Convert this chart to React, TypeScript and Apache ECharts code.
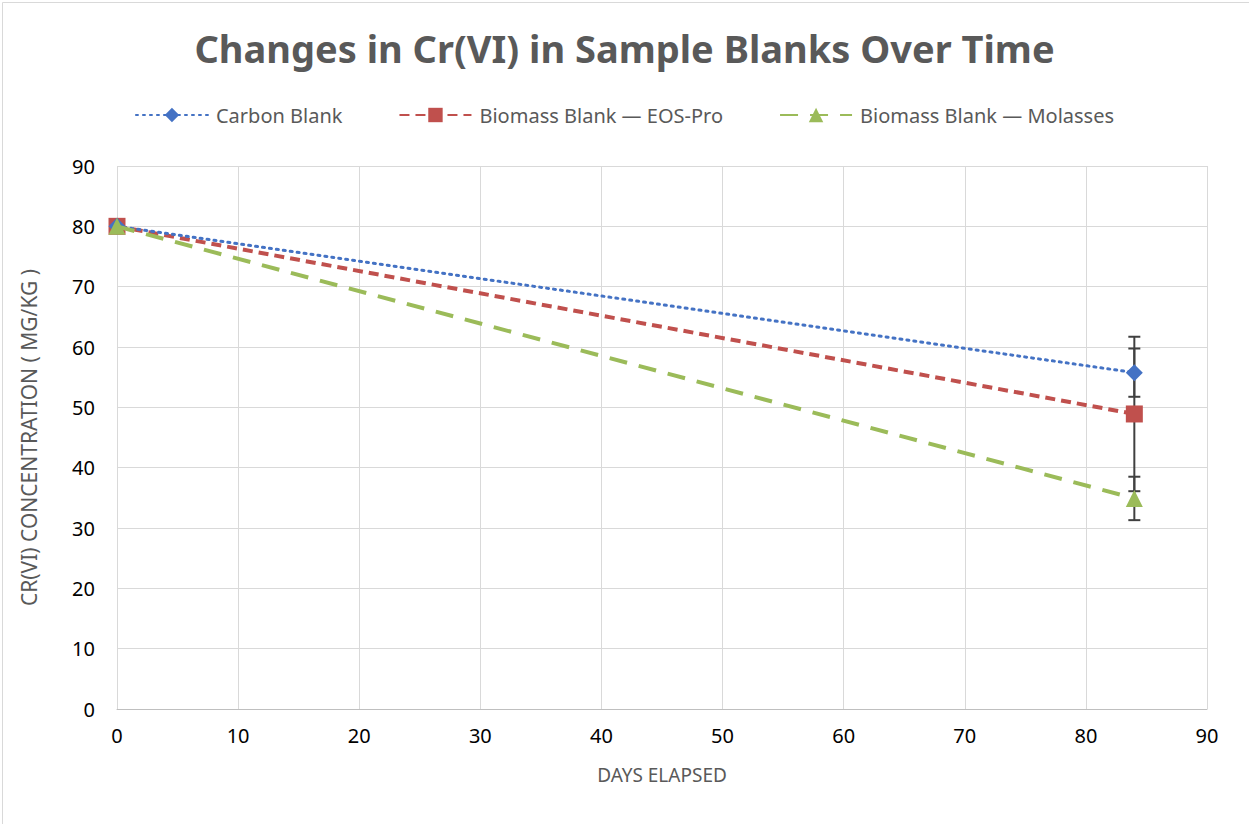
import React, { useEffect, useRef } from "react";
import * as echarts from "echarts";

const days = [0, 84];
const carbonBlank = [80, 55.75];
const eosPro = [80, 48.9];
const molasses = [80, 34.9];
const errCarbon = [0, 4.0];
const errEos = [0, 12.8];
const errMolasses = [0, 3.6];

const seriesNames = ["Carbon Blank", "Biomass Blank \u2014 EOS-Pro", "Biomass Blank \u2014 Molasses"];
const FONT = "'Noto Sans', sans-serif";

export default function App() {
  const ref = useRef<HTMLDivElement>(null);
  useEffect(() => {
    if (!ref.current) return;
    const chart = echarts.init(ref.current, undefined, { renderer: "svg" });
    const pts = (vals: number[]) => days.map((d, i) => [d, vals[i]]);
    const errData: number[][] = [];
    [
      [carbonBlank, errCarbon],
      [eosPro, errEos],
      [molasses, errMolasses],
    ].forEach(([v, e]) => {
      days.forEach((d, i) => {
        if (e[i] > 0) errData.push([d, v[i] - e[i], v[i] + e[i]]);
      });
    });
    chart.setOption({
      animation: false,
      backgroundColor: "#ffffff",
      title: {
        text: "Changes in Cr(VI) in Sample Blanks Over Time",
        left: "center",
        top: 24,
        textStyle: { fontFamily: FONT, fontSize: 38, fontWeight: "bold", color: "#595959" },
      },
      legend: {
        top: 100,
        left: "center",
        itemGap: 56,
        itemWidth: 72,
        itemHeight: 18,
        data: seriesNames,
        textStyle: { fontFamily: FONT, fontSize: 20, color: "#595959", padding: [0, 0, 0, 3] },
      },
      grid: { left: 117, right: 42, top: 166, bottom: 115, containLabel: false },
      xAxis: {
        type: "value",
        min: 0,
        max: 90,
        interval: 10,
        name: "DAYS ELAPSED",
        nameLocation: "middle",
        nameGap: 56,
        nameTextStyle: { fontFamily: FONT, fontSize: 19, color: "#595959" },
        axisLine: { show: true, lineStyle: { color: "#bfbfbf", width: 1 } },
        axisTick: { show: false },
        axisLabel: { fontFamily: FONT, fontSize: 20, color: "#000000", margin: 16 },
        splitLine: { show: true, lineStyle: { color: "#d9d9d9", width: 1 } },
      },
      yAxis: {
        type: "value",
        min: 0,
        max: 90,
        interval: 10,
        name: "CR(VI) CONCENTRATION ( MG/KG )",
        nameLocation: "middle",
        nameGap: 78,
        nameTextStyle: { fontFamily: FONT, fontSize: 21, color: "#595959" },
        axisLine: { show: false },
        axisTick: { show: false },
        axisLabel: { fontFamily: FONT, fontSize: 20, color: "#000000", margin: 22 },
        splitLine: { show: true, lineStyle: { color: "#d9d9d9", width: 1 } },
      },
      series: [
        {
          type: "custom",
          name: "errors",
          z: 1,
          data: errData,
          renderItem: (params: any, api: any) => {
            const x = api.value(0);
            const lo = api.coord([x, api.value(1)]);
            const hi = api.coord([x, api.value(2)]);
            const hw = 6;
            const style = { stroke: "#404040", lineWidth: 2 };
            return {
              type: "group",
              children: [
                { type: "line", shape: { x1: lo[0], y1: lo[1], x2: hi[0], y2: hi[1] }, style },
                { type: "line", shape: { x1: lo[0] - hw, y1: lo[1], x2: lo[0] + hw, y2: lo[1] }, style },
                { type: "line", shape: { x1: hi[0] - hw, y1: hi[1], x2: hi[0] + hw, y2: hi[1] }, style },
              ],
            };
          },
        },
        {
          type: "line",
          name: seriesNames[0],
          z: 4,
          data: pts(carbonBlank),
          symbol: "diamond",
          symbolSize: 17,
          itemStyle: { color: "#4472C4" },
          lineStyle: { color: "#4472C4", width: 3, type: [2, 5], cap: "round" },
        },
        {
          type: "line",
          name: seriesNames[1],
          z: 3,
          data: pts(eosPro),
          symbol: "rect",
          symbolSize: 17,
          itemStyle: { color: "#C0504D" },
          lineStyle: { color: "#C0504D", width: 4, type: [10, 6] },
        },
        {
          type: "line",
          name: seriesNames[2],
          z: 5,
          data: pts(molasses),
          symbol: "triangle",
          symbolSize: 17,
          itemStyle: { color: "#9BBB59" },
          lineStyle: { color: "#9BBB59", width: 4, type: [18, 12] },
        },
      ],
      graphic: [
        {
          type: "rect",
          left: 0,
          top: 0,
          shape: { width: 1248, height: 823 },
          style: { fill: "none", stroke: "#d9d9d9", lineWidth: 1 },
          silent: true,
        },
      ],
    });
    return () => chart.dispose();
  }, []);
  return <div ref={ref} style={{ width: 1249, height: 824, position: "absolute", left: 0, top: 0 }} />;
}
